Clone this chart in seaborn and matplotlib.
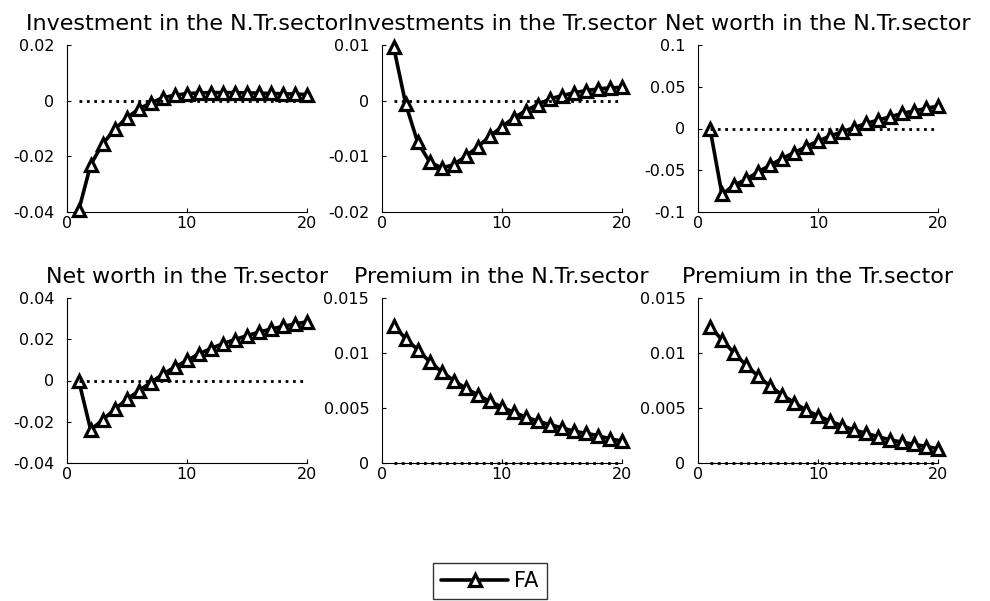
import numpy as np
import pandas as pd
import matplotlib
matplotlib.use("Agg")
import matplotlib.pyplot as plt
from matplotlib.ticker import FuncFormatter
import seaborn as sns

periods = list(range(1, 21))

inv_ntr = [-0.0394, -0.0230, -0.0155, -0.0103, -0.0062, -0.0030, -0.0008, 0.0010, 0.0020, 0.0025,
           0.0028, 0.0029, 0.0029, 0.0029, 0.0028, 0.0027, 0.0026, 0.0025, 0.0024, 0.0022]
inv_tr = [0.0096, -0.0006, -0.0075, -0.0110, -0.0121, -0.0115, -0.0100, -0.0083, -0.0064, -0.0047,
          -0.0031, -0.0018, -0.0007, 0.0003, 0.0009, 0.0014, 0.0018, 0.0021, 0.0023, 0.0024]
nw_ntr = [0.000, -0.079, -0.068, -0.061, -0.052, -0.044, -0.036, -0.029, -0.022, -0.015,
          -0.009, -0.004, 0.001, 0.006, 0.010, 0.014, 0.018, 0.021, 0.024, 0.027]
nw_tr = [0.0000, -0.0240, -0.0190, -0.0140, -0.0092, -0.0050, -0.0010, 0.0030, 0.0065, 0.0097,
         0.0128, 0.0155, 0.0178, 0.0198, 0.0217, 0.0234, 0.0249, 0.0262, 0.0274, 0.0284]
prem_ntr = [0.0125, 0.0113, 0.0103, 0.0092, 0.0083, 0.0075, 0.0068, 0.0062, 0.0056, 0.0051,
            0.0046, 0.0042, 0.0038, 0.0035, 0.0032, 0.0029, 0.0027, 0.0025, 0.0022, 0.0020]
prem_tr = [0.0124, 0.0112, 0.0100, 0.0089, 0.0079, 0.0070, 0.0062, 0.0055, 0.0048, 0.0043,
           0.0038, 0.0034, 0.0030, 0.0027, 0.0024, 0.0021, 0.0019, 0.0017, 0.0015, 0.0013]

titles = ["Investment in the N.Tr.sector", "Investments in the Tr.sector", "Net worth in the N.Tr.sector",
          "Net worth in the Tr.sector", "Premium in the N.Tr.sector", "Premium in the Tr.sector"]
series = [inv_ntr, inv_tr, nw_ntr, nw_tr, prem_ntr, prem_tr]
ylims = [(-0.04, 0.02), (-0.02, 0.01), (-0.1, 0.1), (-0.04, 0.04), (0, 0.015), (0, 0.015)]
yticks = [[-0.04, -0.02, 0, 0.02], [-0.02, -0.01, 0, 0.01], [-0.1, -0.05, 0, 0.05, 0.1],
          [-0.04, -0.02, 0, 0.02, 0.04], [0, 0.005, 0.01, 0.015], [0, 0.005, 0.01, 0.015]]
xticks = [0, 10, 20]
legend_label = "FA"

sns.set_style("white")
plt.rcParams['font.family'] = ['DejaVu Sans']
plt.rcParams['axes.unicode_minus'] = False
plt.rcParams['text.color'] = 'black'
plt.rcParams['axes.titlecolor'] = 'black'

fig = plt.figure(figsize=(9.9, 6.01), dpi=100)
W, H = 990, 601
lefts = [66.7, 381.7, 698]
rows = [(45, 212), (298, 463)]
axw = 240

axes = []
for i in range(6):
    r, c = divmod(i, 3)
    top, bot = rows[r]
    ax = fig.add_axes([lefts[c] / W, 1 - bot / H, axw / W, (bot - top) / H])
    axes.append(ax)
    df = pd.DataFrame({"t": periods, "v": series[i], "z": [0.0] * len(periods)})
    sns.lineplot(data=df, x="t", y="z", ax=ax, color="black", linestyle=":", linewidth=2.0,
                 zorder=4, clip_on=False)
    sns.lineplot(data=df, x="t", y="v", ax=ax, color="black", linewidth=2.6, marker="^",
                 markersize=9, markeredgewidth=2.3, markerfacecolor="white",
                 markeredgecolor="black", label=legend_label, zorder=3, clip_on=False)
    ax.set_xlim(0, 20)
    ax.set_ylim(*ylims[i])
    ax.set_xticks(xticks)
    ax.set_yticks(yticks[i])
    ax.yaxis.set_major_formatter(FuncFormatter(lambda v, p: "%g" % round(v, 6)))
    ax.set_xlabel("")
    ax.set_ylabel("")
    ax.set_title(titles[i], fontsize=16, pad=11, color="black")
    for s in ["top", "right"]:
        ax.spines[s].set_visible(False)
    for s in ["left", "bottom"]:
        ax.spines[s].set_color("black")
        ax.spines[s].set_linewidth(0.8)
    ax.tick_params(axis="both", direction="in", length=3, width=0.8, colors="black",
                   labelsize=11.5, left=True, bottom=True)
    ax.tick_params(axis="y", pad=9)
    ax.tick_params(axis="x", pad=3)
    if ax.legend_:
        ax.legend_.remove()

handles, labels = axes[0].get_legend_handles_labels()
leg = fig.legend(handles[-1:], labels[-1:], loc="center", bbox_to_anchor=(490 / W, 1 - 581 / H),
                 frameon=True, fancybox=False, edgecolor="black", fontsize=15,
                 handlelength=3.2, borderpad=0.4, handletextpad=0.3)
leg.get_frame().set_linewidth(1.0)

fig.savefig("out.png", dpi=100)
